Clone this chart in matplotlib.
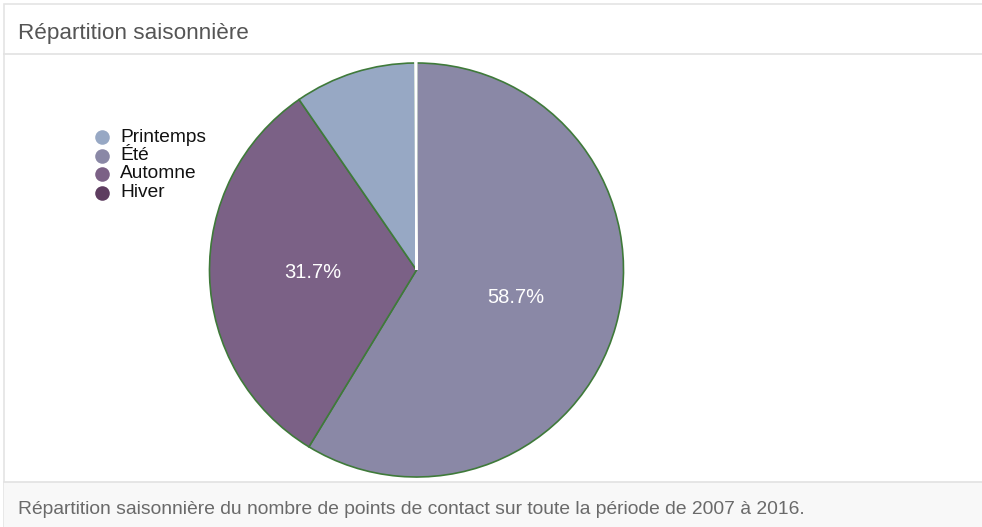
import matplotlib.pyplot as plt
import numpy as np
from matplotlib.patches import Rectangle

plt.rcParams["font.family"] = ["Liberation Sans", "DejaVu Sans"]

# pie data, in drawing order (clockwise from 12 o'clock)
seasons = ["Été", "Automne", "Printemps", "Hiver"]
shares = [58.7, 31.7, 9.5, 0.1]
colors = ["#8a88a6", "#7b6186", "#97a8c4", "#5e3d60"]
labels_shown = ["58.7%", "31.7%", "", ""]

# legend order as in the chart
legend_names = ["Printemps", "Été", "Automne", "Hiver"]
legend_colors = ["#97a8c4", "#8a88a6", "#7b6186", "#5e3d60"]

title = "Répartition saisonnière"
caption = "Répartition saisonnière du nombre de points de contact sur toute la période de 2007 à 2016."

W, H = 982, 527
fig = plt.figure(figsize=(W / 100, H / 100), dpi=100)
ax = fig.add_axes([0, 0, 1, 1])


def y(px):
    return H - px


# card frame
ax.add_patch(Rectangle((4, y(527)), W, 527 - 4, facecolor="white", edgecolor="#e4e4e4", lw=1.2))
ax.add_patch(Rectangle((4, y(527)), W, 527 - 482, facecolor="#f8f8f8", edgecolor="none"))
ax.plot([4, W], [y(54), y(54)], color="#e2e2e2", lw=1.2)
ax.plot([4, W], [y(482), y(482)], color="#e2e2e2", lw=1.2)

ax.text(18, y(33), title, fontsize=16.2, color="#555555", va="center", ha="left")
ax.text(18, y(510), caption, fontsize=13.9, color="#6a6a6a", va="center", ha="left")

cx, cy, rad = 416.5, y(270), 207
wedges, texts = ax.pie(
    shares,
    colors=colors,
    startangle=90,
    counterclock=False,
    center=(cx, cy),
    radius=rad,
    wedgeprops=dict(edgecolor="#3f7a3a", linewidth=1.2),
)
wedges[-1].set_edgecolor("white")
wedges[-1].set_linewidth(1.5)
wedges[-1].set_zorder(3)

# percentage labels inside
for w, lab in zip(wedges, labels_shown):
    if not lab:
        continue
    ang = np.deg2rad((w.theta1 + w.theta2) / 2)
    r = rad * 0.5
    ax.text(cx + r * np.cos(ang), cy + r * np.sin(ang), lab,
            color="white", fontsize=14.5, ha="center", va="center")

# legend
for i, (name, c) in enumerate(zip(legend_names, legend_colors)):
    yy = y(137 + i * 18.5)
    ax.scatter([102], [yy], s=110, color=c, zorder=4, linewidths=0)
    ax.text(120, yy, name, fontsize=13.8, color="#111111", va="center", ha="left")

ax.set_xlim(0, W)
ax.set_ylim(0, H)
ax.set_aspect("equal")
ax.axis("off")

fig.savefig("out.png", dpi=100)
